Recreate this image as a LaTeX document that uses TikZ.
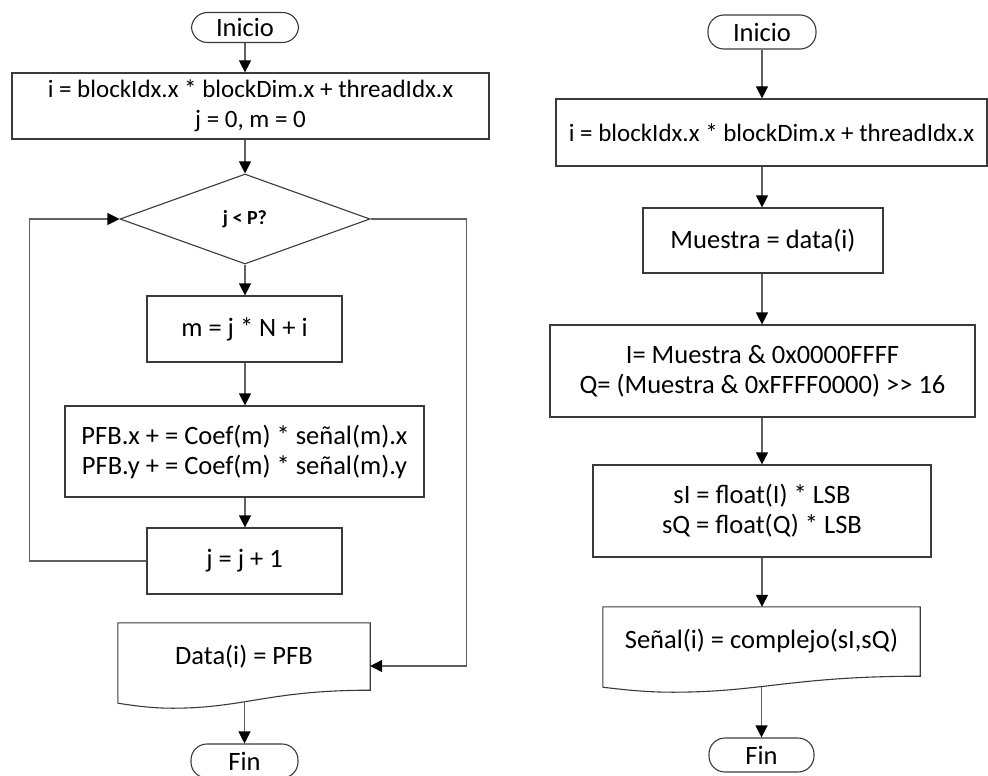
\documentclass[tikz,border=0pt]{standalone}
\usepackage{fontspec}
\setmainfont{Carlito}
\usetikzlibrary{shapes.geometric,arrows.meta,calc}

\definecolor{edge}{HTML}{3A3A3A}
\definecolor{wire}{HTML}{606060}

\tikzset{
  every node/.style={font=\fontsize{26.5}{30}\selectfont, inner sep=0pt, align=center},
  smalltext/.style={font=\fontsize{25}{30}\selectfont},
  procbox/.style={draw=edge, line width=1.2pt, rectangle},
  termbox/.style={draw=edge, line width=1.1pt, rectangle, rounded corners=16pt},
  decision/.style={draw=edge, line width=1.1pt, diamond, font=\fontsize{20}{24}\selectfont\bfseries},
  docbox/.style={rectangle, draw=none},
  docline/.style={draw=edge, line width=1.1pt, line join=miter},
  flow/.style={draw=wire, line width=1.2pt, -{Triangle[length=12pt,width=12pt,fill=black,color=black]}}
}

\begin{document}
\begin{tikzpicture}[x=1pt,y=-1pt]
  \useasboundingbox (0,0) rectangle (988,776);
  \clip (0,0) rectangle (988,776);

  % ---------------- left flow: polyphase filter bank kernel ----------------
  \node[termbox, minimum width=107pt, minimum height=30pt] (iniL) at (245,27.5) {Inicio};
  \node[procbox, smalltext, minimum width=477pt, minimum height=66pt] (idxL) at (250.5,106)
       {i = blockIdx.x * blockDim.x + threadIdx.x\\ j = 0, m = 0};
  \node[decision, minimum width=250pt, minimum height=90pt] (cond) at (245,219) {j < P?};
  \node[procbox, minimum width=195pt, minimum height=66pt] (mcalc) at (244.5,329) {m = j * N + i};
  \node[procbox, minimum width=359pt, minimum height=91pt] (accum) at (244.5,451.5)
       {PFB.x + = Coef(m) * señal(m).x\\ PFB.y + = Coef(m) * señal(m).y};
  \node[procbox, minimum width=195pt, minimum height=66pt] (incr) at (244.5,561) {j = j + 1};
  \node[docbox, minimum width=252pt, minimum height=67pt] (outL) at (244,656.5) {Data(i) = PFB};
  \node[termbox, minimum width=107pt, minimum height=34pt] (finL) at (244.5,761) {Fin};

  % document outline with wavy lower edge
  \draw[docline] ($(outL.south west)+(0,13)$) -- (outL.north west) -- (outL.north east) -- (outL.south east)
     .. controls ($(outL.south east)+(-101,0)$) and ($(outL.south west)+(126,18)$) .. ($(outL.south west)+(55,18)$)
     coordinate[pos=0.6] (outLbot)
     .. controls ($(outL.south west)+(35,18)$) and ($(outL.south west)+(20,16)$) .. ($(outL.south west)+(0,13)$);

  \draw[flow] (iniL.south) -- (iniL.south |- idxL.north);
  \draw[flow] (idxL.south -| cond.north) -- (cond.north);
  \draw[flow] (cond.south) -- (cond.south |- mcalc.north);
  \draw[flow] (mcalc.south -| cond.south) -- (cond.south |- accum.north);
  \draw[flow] (accum.south -| cond.south) -- (cond.south |- incr.north);
  \draw[flow] (incr.west) -- ++(-117,0) |- (cond.west);
  \draw[flow] (cond.east) -- ++(96,0) |- ($(outL.east)+(0,9.5)$);
  \draw[flow] (outLbot -| finL.north) -- (finL.north);

  % ---------------- right flow: sample unpacking kernel ----------------
  \node[termbox, minimum width=108pt, minimum height=34pt] (iniR) at (762,32) {Inicio};
  \node[procbox, smalltext, minimum width=431pt, minimum height=67pt] (idxR) at (771.5,132.5)
       {i = blockIdx.x * blockDim.x + threadIdx.x};
  \node[procbox, minimum width=240pt, minimum height=65pt] (load) at (763,240.5) {Muestra = data(i)};
  \node[procbox, minimum width=425pt, minimum height=92pt] (split) at (762.5,371)
       {I= Muestra \& 0x0000FFFF\\ Q= (Muestra \& 0xFFFF0000) >{}> 16};
  \node[procbox, minimum width=338pt, minimum height=92pt] (scale) at (762,511)
       {sI = float(I) * LSB\\ sQ = float(Q) * LSB};
  \node[docbox, minimum width=317pt, minimum height=69pt] (outR) at (761.5,641.5)
       {Señal(i) = complejo(sI,sQ)};
  \node[termbox, minimum width=105pt, minimum height=34pt] (finR) at (761.5,755) {Fin};

  \draw[docline] ($(outR.south west)+(0,11)$) -- (outR.north west) -- (outR.north east) -- (outR.south east)
     .. controls ($(outR.south east)+(-127,0)$) and ($(outR.south west)+(158,16)$) .. ($(outR.south west)+(70,16)$)
     coordinate[pos=0.6] (outRbot)
     .. controls ($(outR.south west)+(45,16)$) and ($(outR.south west)+(25,14)$) .. ($(outR.south west)+(0,11)$);

  \draw[flow] (iniR.south) -- (iniR.south |- idxR.north);
  \draw[flow] (idxR.south -| iniR.south) -- (iniR.south |- load.north);
  \draw[flow] (load.south -| iniR.south) -- (iniR.south |- split.north);
  \draw[flow] (split.south -| iniR.south) -- (iniR.south |- scale.north);
  \draw[flow] (scale.south -| iniR.south) -- (iniR.south |- outR.north);
  \draw[flow] (outRbot -| finR.north) -- (finR.north);
\end{tikzpicture}
\end{document}
